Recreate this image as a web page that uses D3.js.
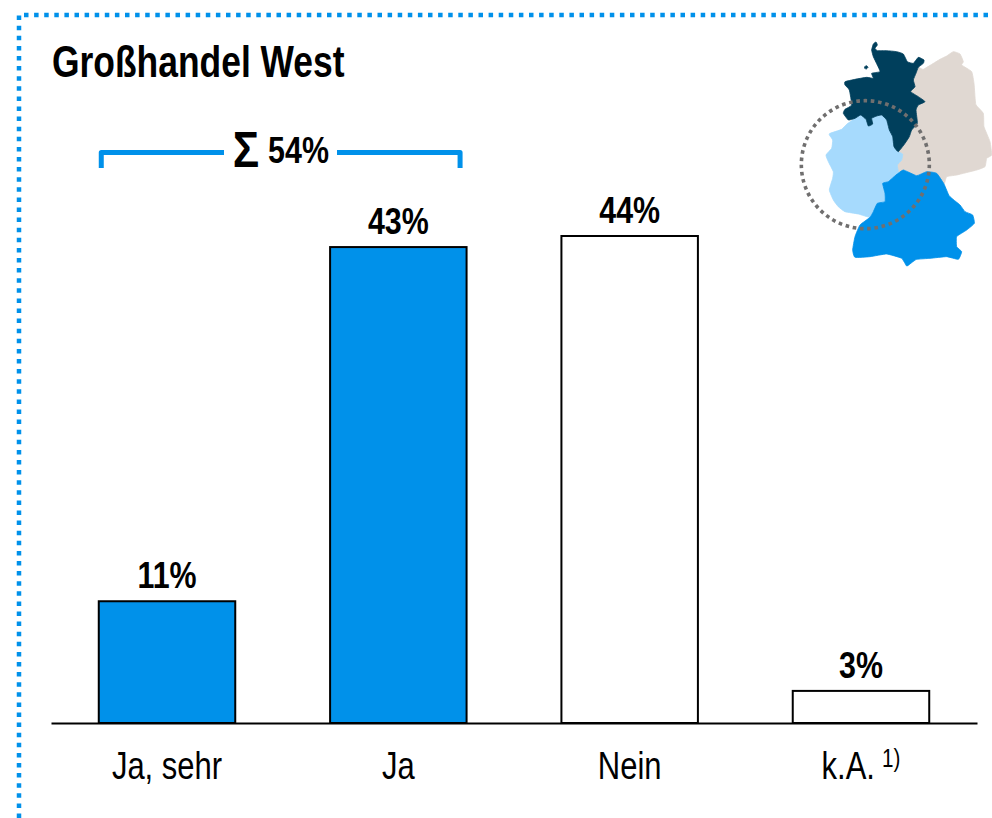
<!DOCTYPE html>
<html><head><meta charset="utf-8">
<script src="https://cdn.jsdelivr.net/npm/d3@7/dist/d3.min.js"></script>
<style>html,body{margin:0;padding:0;background:#fff}svg{display:block}text{font-family:"Liberation Sans",Arial,sans-serif;fill:#000}</style>
</head><body><div id="c"></div>
<script>
const title = "Großhandel West";
const categories = ["Ja, sehr","Ja","Nein","k.A."];
const footnotes = ["","","","1)"];
const values = [11,43,44,2.9];
const filled = [true,true,false,false];
const sumLabel = "54%";
const blue="#0091ea";
const west=[[120,310],[155,298],[170,283],[195,265],[212,255],[228,268],[235,288],[248,282],[245,265],[260,258],[275,255],[290,270],[298,300],[308,320],[312,350],[325,365],[338,372],[335,390],[322,405],[325,425],[318,435],[295,455],[278,460],[285,490],[285,515],[262,520],[250,545],[240,562],[205,552],[165,545],[145,530],[130,510],[118,480],[128,445],[130,425],[115,395],[108,375],[125,355],[128,330],[118,315]];
const east=[[490,65],[510,72],[520,95],[515,105],[545,125],[552,160],[555,200],[558,225],[580,250],[582,290],[600,335],[605,375],[590,385],[585,410],[560,420],[500,435],[470,440],[462,462],[440,430],[410,425],[380,437],[345,420],[325,425],[322,405],[335,390],[338,372],[325,365],[345,340],[358,320],[365,300],[382,280],[378,240],[385,225],[405,215],[385,200],[362,185],[375,170],[370,150],[385,112],[400,118],[450,88],[470,78]];
const south=[[340,420],[380,437],[410,425],[440,430],[462,462],[478,498],[510,525],[525,545],[548,555],[553,580],[530,600],[500,620],[500,650],[515,665],[505,688],[470,680],[420,685],[380,688],[365,698],[350,708],[335,685],[290,672],[240,680],[195,682],[188,660],[195,620],[210,585],[240,562],[250,545],[262,520],[285,515],[285,490],[278,460],[295,455],[318,435]];
const north=[[250,42],[258,36],[262,45],[255,55],[262,62],[290,62],[320,65],[340,72],[352,95],[370,100],[385,82],[402,90],[400,100],[385,112],[378,130],[370,150],[375,170],[362,185],[385,200],[405,215],[385,225],[378,240],[382,280],[365,300],[358,320],[345,340],[325,365],[312,350],[308,320],[298,300],[290,270],[275,255],[260,258],[245,265],[248,282],[235,288],[228,268],[212,255],[195,265],[175,270],[160,250],[165,238],[185,225],[178,180],[165,165],[165,155],[195,148],[230,142],[250,145],[245,130],[270,125],[262,105],[250,80],[245,60]];
const island=[[224,110],[230,107],[234,112],[229,117],[224,115]];
const regions=[[east,"#e0d8d2"],[west,"#a6dafd"],[south,blue],[north,"#003f5c"],[island,"#003f5c"]];

const W=992,H=818;
const svg=d3.select("#c").append("svg").attr("width",W).attr("height",H);
const x=d3.scaleBand().domain(categories).range([51,977]).paddingInner(.41).paddingOuter(.2065);
const y=d3.scaleLinear().domain([0,44]).range([723,236]);

// dotted frame
const frame=svg.append("g").attr("fill","none").attr("stroke",blue).attr("stroke-width",4.5).attr("stroke-dasharray","4.5 5.6");
frame.append("path").attr("d",d3.line()([[19,818],[19,15],[992,15]]));

// title
const tx=(s,px,py,size,sx,bold)=>svg.append("text").text(s)
  .attr("transform",`translate(${px},${py}) scale(${sx},1)`)
  .attr("font-size",size).attr("font-weight",bold?700:400);
tx(title,52,77,44,.805,true);

// map
const mx=d3.scaleLinear().domain([0,606]).range([790,992]);
const my=d3.scaleLinear().domain([0,720]).range([30,270]);
const ml=d3.line().x(d=>mx(d[0])).y(d=>my(d[1])).curve(d3.curveCardinalClosed.tension(.6));
const mapG=svg.append("g");
regions.forEach(([pts,col])=>mapG.append("path").attr("d",ml(pts)).attr("fill",col).attr("stroke",col).attr("stroke-width",.8));
mapG.append("circle").attr("cx",mx(226)).attr("cy",my(404)).attr("r",64)
  .attr("fill","none").attr("stroke","#706f6f").attr("stroke-width",3.6).attr("stroke-dasharray","3.6 3.7");

// bars
svg.selectAll("rect.bar").data(categories).join("rect").attr("class","bar")
  .attr("x",d=>x(d)).attr("width",x.bandwidth())
  .attr("y",(d,i)=>y(values[i])).attr("height",(d,i)=>y(0)-y(values[i]))
  .attr("fill",(d,i)=>filled[i]?blue:"#fff").attr("stroke","#000").attr("stroke-width",2);

// axis
const ax=svg.append("g").attr("transform",`translate(0,${y(0)})`).call(d3.axisBottom(x).tickSize(0).tickPadding(0));
ax.select(".domain").attr("stroke","#000").attr("stroke-width",2);
ax.selectAll(".tick text").each(function(d,i){
  const t=d3.select(this).text(null).attr("y",0).attr("dy",null)
    .attr("transform","translate(0,56) scale(.795,1)").attr("font-size",39)
    .attr("font-family",'"Liberation Sans",Arial,sans-serif').attr("text-anchor","middle");
  t.append("tspan").text(d);
  if(footnotes[i]){
    t.append("tspan").text(" ").attr("font-size",32);
    t.append("tspan").text(footnotes[i]).attr("font-size",26).attr("dy",-12);
  }
});

// value labels
categories.forEach((c,i)=>{
  tx(Math.round(values[i])+"%",x(c)+x.bandwidth()/2,y(values[i])-13,37.5,.81,true).attr("text-anchor","middle");
});

// sum bracket
const br=svg.append("g").attr("fill","none").attr("stroke",blue).attr("stroke-width",5).attr("stroke-linejoin","round");
const bx0=x(categories[0])+2.5, bx1=x(categories[1])+x.bandwidth()-6.5;
br.append("path").attr("d",d3.line()([[bx0,168],[bx0,152.5],[224,152.5]]));
br.append("path").attr("d",d3.line()([[337,152.5],[bx1,152.5],[bx1,168]]));
svg.append("text").text("Σ").attr("transform","translate(246,167) scale(.88,1)").attr("text-anchor","middle")
  .attr("font-size",50).attr("font-weight",700).attr("font-family",'"Liberation Serif",serif');
tx(sumLabel,298.5,163,37.5,.81,true).attr("text-anchor","middle");
</script></body></html>
